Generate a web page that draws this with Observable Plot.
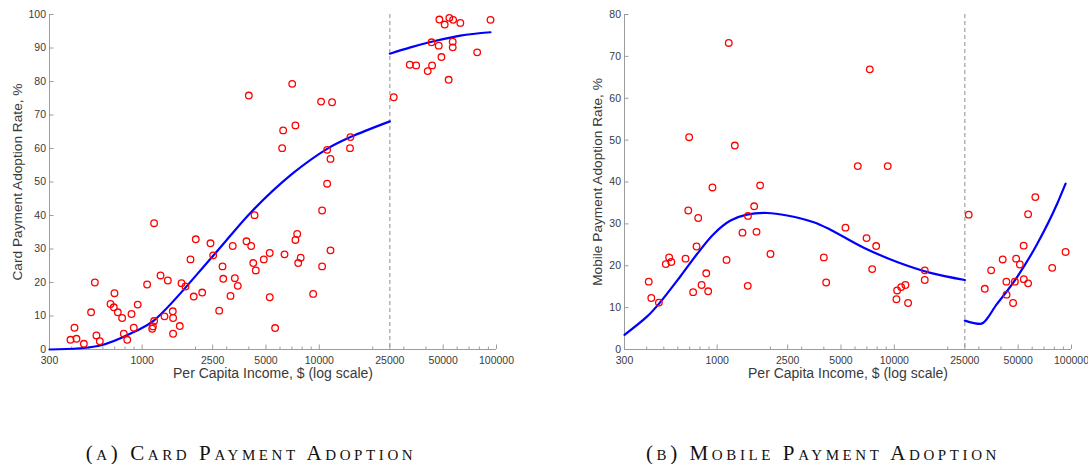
<!DOCTYPE html>
<html><head><meta charset="utf-8">
<script src="https://cdn.jsdelivr.net/npm/d3@7"></script>
<script src="https://cdn.jsdelivr.net/npm/@observablehq/plot@0.6"></script>
<style>
body{margin:0;background:#fff;}
#wrap{position:relative;width:1088px;height:464px;overflow:hidden;background:#fff;}
.panel{position:absolute;top:0;}
.cap{position:absolute;top:443px;font-family:"Liberation Serif","Times New Roman",serif;font-size:21px;line-height:21px;font-variant:small-caps;letter-spacing:3.6px;text-align:center;color:#111;white-space:nowrap;}
</style></head><body><div id="wrap"></div>
<script>
// ---- Card payment adoption: scatter (income $, rate %)
const cardIncome = [394,415,426,469,515,541,552,577,663,692,698,729,771,788,824,871,897,944,1067,1140,1150,1168,1168,1270,1337,1396,1489,1495,1495,1631,1668,1756,1875,1955,2008,2182,2431,2518,2722,2842,2870,3153,3245,3336,3465,3880,4000,4125,4237,4310,4380,4860,5250,5250,5630,6360,7330,7500,7600,7850,9230,10370,10370,11070,11560,7030,10230,11800,7330,6250,6170,11070,14980,14900,11560,26300,32400,35200,40900,43300,43000,47200,48900,47600,51000,54200,56900,62500,56600,56600,53700,77800,92500];
const cardRate = [2.9,6.5,3.2,1.7,11.1,20.0,4.2,2.5,13.6,12.6,16.8,11.1,9.4,4.7,2.9,10.6,6.5,13.4,19.4,6.2,6.9,8.5,37.7,22.1,9.9,20.6,11.4,9.4,4.7,7.0,19.8,18.8,26.9,15.8,32.9,17.0,31.7,28.1,11.6,24.8,21.1,16.0,30.9,21.3,19.0,32.3,75.8,30.9,25.8,40.1,23.6,26.9,28.8,15.6,6.4,28.4,32.7,34.5,25.8,27.4,16.6,41.5,24.8,49.5,29.6,79.3,74.0,73.8,66.9,65.4,60.1,59.6,63.4,60.1,56.9,75.3,85.0,84.8,83.1,84.8,91.7,90.7,87.3,98.5,97.0,99.0,98.4,97.5,91.9,90.2,80.5,88.7,98.4];
// fitted curve, below threshold / above threshold
const cardFitLowIncome = [300,582,897,1168,2518,4120,7020,11070,14980,25000];
const cardFitLowRate = [0.0,1.2,5.2,8.7,28.0,41.0,52.4,59.9,63.4,68.1];
const cardFitHighIncome = [25000,32700,44200,62500,92500];
const cardFitHighRate = [88.3,90.2,92.0,93.7,94.7];

// ---- Mobile payment adoption: scatter
const mobileIncome = [1163,695,1258,941,1748,411,425,469,513,536,551,663,687,732,765,782,817,868,890,1130,1390,1489,1493,1618,1668,2000,4000,4125,7270,6220,9180,62500,5300,6970,7900,7500,14850,14850,10930,11550,10370,10280,11960,26300,32400,35200,40900,42900,43000,46800,47900,48700,51100,53800,53700,56900,56900,77800,92600];
const mobileRate = [73.2,50.7,48.7,38.7,39.2,16.2,12.3,11.2,20.4,22.0,20.9,21.7,33.2,13.7,24.6,31.4,15.4,18.2,13.9,21.4,27.9,15.2,31.9,34.2,28.1,22.8,22.0,16.0,66.9,43.8,43.8,36.4,29.1,26.6,24.7,19.2,18.9,16.6,14.9,15.4,14.1,12.0,11.1,32.2,14.5,18.9,21.5,16.2,13.1,11.1,16.2,21.7,20.3,16.8,24.8,15.8,32.3,19.5,23.3];
const mobileFitLowIncome = [300,403,469,621,770,957,1190,1470,1916,2483,3510,4360,6720,10370,16000,25000];
const mobileFitLowRate = [3.5,7.9,10.9,17.5,22.8,27.6,30.8,32.2,32.6,32.0,30.4,28.6,24.3,20.9,18.3,16.6];
const mobileFitHighIncome = [25000,30600,38000,49300,64000,83000,92600];
const mobileFitHighRate = [6.9,6.1,10.9,17.3,25.2,34.8,39.6];

// ---- axes
const xMajorTicks = [300,1000,2500,5000,10000,25000,50000,100000];
const xMinorTicks = [400,500,600,700,800,900,2000,3000,4000,6000,7000,8000,9000,20000,30000,40000,60000,70000,80000,90000];
const cardYTicks = [0,10,20,30,40,50,60,70,80,90,100];
const mobileYTicks = [0,10,20,30,40,50,60,70,80];
const threshold = [25000];
const xTitle = "Per Capita Income, $ (log scale)";
const cardYTitle = "Card Payment Adoption Rate, %";
const mobileYTitle = "Mobile Payment Adoption Rate, %";
const cardCaption = "(a) Card Payment Adoption";
const mobileCaption = "(b) Mobile Payment Adoption";

const zipXY = (xs, ys) => xs.map((x, i) => ({x, y: ys[i]}));

const W = 544, H = 392, MT = 14, MB = 43;

function panel({income, rate, lowX, lowY, highX, highY, lowCurve, yMax, yTicks, yTitle, ml, mr, ylDx}) {
  const axisCol = "#9c9c9c";
  const textCol = "#3a3a3a";
  const frameW = W - ml - mr, frameH = H - MT - MB;
  return Plot.plot({
    width: W, height: H,
    marginLeft: ml, marginRight: mr, marginTop: MT, marginBottom: MB,
    style: {fontFamily: "'Liberation Sans', Arial, sans-serif", fontSize: "10.5px", background: "#fff", overflow: "visible"},
    x: {type: "log", domain: [300, 100000], axis: null},
    y: {domain: [0, yMax], axis: null},
    marks: [
      Plot.ruleX(threshold, {stroke: "#a8a8a8", strokeWidth: 1.3, strokeDasharray: "4,3"}),
      Plot.ruleX([300], {stroke: axisCol, strokeWidth: 1}),
      Plot.ruleY([0], {stroke: axisCol, strokeWidth: 1}),
      // inward tick marks
      Plot.ruleX(xMinorTicks, {x: d => d, insetTop: frameH - 2.5, stroke: axisCol, strokeWidth: 1}),
      Plot.ruleX(xMajorTicks, {x: d => d, insetTop: frameH - 4.5, stroke: axisCol, strokeWidth: 1}),
      Plot.ruleY(yTicks, {y: d => d, insetRight: frameW - 4.5, stroke: axisCol, strokeWidth: 1}),
      // tick labels
      Plot.text(xMajorTicks, {x: d => d, text: d => String(d), frameAnchor: "bottom", dy: 7, lineAnchor: "top", textAnchor: "middle", fill: textCol, fontSize: 10.5}),
      Plot.text(yTicks, {y: d => d, text: d => String(d), frameAnchor: "left", dx: -3.5, lineAnchor: "middle", textAnchor: "end", fill: textCol, fontSize: 10.5}),
      // data
      Plot.line(zipXY(lowX, lowY), {x: "x", y: "y", stroke: "#0000ff", strokeWidth: 2.2, curve: lowCurve}),
      Plot.line(zipXY(highX, highY), {x: "x", y: "y", stroke: "#0000ff", strokeWidth: 2.2, curve: "monotone-x"}),
      Plot.dot(zipXY(income, rate), {x: "x", y: "y", r: 3.3, stroke: "#ff0000", strokeWidth: 1.3, fill: "none"}),
      // titles
      Plot.text([yTitle], {frameAnchor: "left", rotate: -90, dx: ylDx, textAnchor: "middle", lineAnchor: "middle", fontSize: 13.7, fill: textCol}),
      Plot.text([xTitle], {frameAnchor: "bottom", dy: 24, textAnchor: "middle", lineAnchor: "middle", fontSize: 14, fill: textCol})
    ]
  });
}

const wrap = document.getElementById("wrap");
const left = panel({income: cardIncome, rate: cardRate, lowX: cardFitLowIncome, lowY: cardFitLowRate, lowCurve: "catmull-rom",
  highX: cardFitHighIncome, highY: cardFitHighRate, yMax: 100, yTicks: cardYTicks, yTitle: cardYTitle, ml: 49, mr: 48, ylDx: -31.5});
left.classList.add("panel"); left.style.left = "0px";
const right = panel({income: mobileIncome, rate: mobileRate, lowX: mobileFitLowIncome, lowY: mobileFitLowRate, lowCurve: "catmull-rom",
  highX: mobileFitHighIncome, highY: mobileFitHighRate, yMax: 80, yTicks: mobileYTicks, yTitle: mobileYTitle, ml: 80, mr: 17, ylDx: -26.5});
right.classList.add("panel"); right.style.left = "544px";
wrap.appendChild(left); wrap.appendChild(right);

const capA = document.createElement("div");
capA.className = "cap"; capA.style.left = "0px"; capA.style.width = "502px"; capA.textContent = cardCaption;
const capB = document.createElement("div");
capB.className = "cap"; capB.style.left = "603px"; capB.style.width = "440px"; capB.textContent = mobileCaption;
wrap.appendChild(capA); wrap.appendChild(capB);
</script></body></html>
